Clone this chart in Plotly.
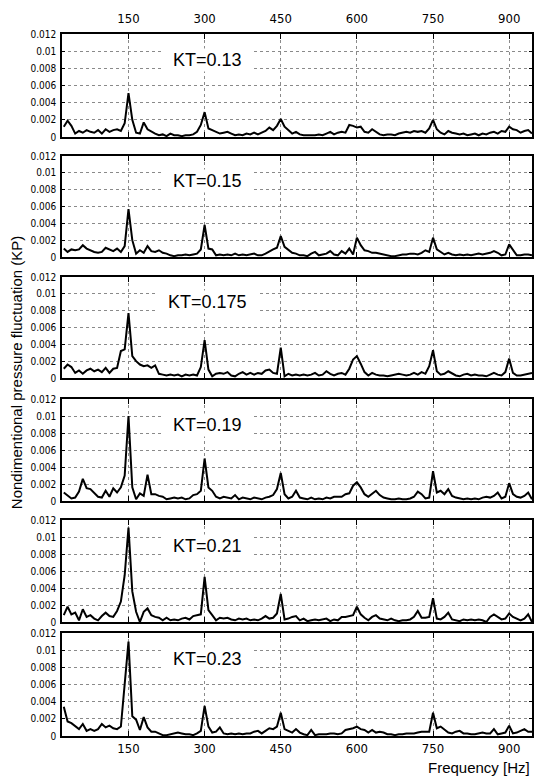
import plotly.graph_objects as go

# Frequency grid (Hz)
freq = [22.5 + 7.5 * i for i in range(124)]

# Nondimensional pressure fluctuation values, in units of 1e-3
kt013 = [1.2, 1.9, 1.3, 0.4, 0.7, 0.5, 0.8, 0.6, 0.5, 0.8,
         0.4, 0.9, 0.6, 0.8, 0.9, 0.7, 1.6, 5.1, 2.0, 0.5,
         0.4, 1.7, 0.9, 0.6, 0.4, 0.2, 0.3, 0.1, 0.4, 0.2,
         0.2, 0.1, 0.2, 0.2, 0.3, 0.6, 1.4, 2.9, 1.0, 0.8,
         0.6, 0.4, 0.5, 0.6, 0.4, 0.2, 0.3, 0.2, 0.4, 0.3,
         0.5, 0.3, 0.5, 0.7, 1.1, 0.8, 1.3, 2.1, 1.2, 0.8,
         0.4, 0.6, 0.3, 0.2, 0.2, 0.2, 0.2, 0.3, 0.2, 0.4,
         0.6, 0.3, 0.5, 0.6, 0.5, 1.4, 1.3, 1.1, 1.2, 0.6,
         0.5, 0.9, 0.6, 0.3, 0.2, 0.3, 0.3, 0.2, 0.4, 0.5,
         0.6, 0.5, 0.7, 0.6, 0.7, 0.5, 1.0, 2.0, 0.9, 0.5,
         0.3, 0.7, 0.5, 0.4, 0.3, 0.4, 0.2, 0.3, 0.4, 0.2,
         0.4, 0.3, 0.5, 0.6, 0.4, 0.7, 0.6, 1.2, 0.9, 0.8,
         0.5, 0.7, 0.8, 0.4]

kt015 = [1.0, 0.6, 0.9, 0.8, 0.9, 1.4, 1.0, 0.8, 0.6, 0.5,
         0.6, 1.1, 0.9, 0.7, 1.0, 0.6, 1.3, 5.7, 2.0, 0.4,
         0.8, 0.5, 1.3, 0.7, 0.6, 0.8, 0.5, 0.4, 0.2, 0.1,
         0.2, 0.2, 0.3, 0.2, 0.3, 0.4, 0.9, 3.8, 1.0, 0.9,
         0.2, 0.3, 0.2, 0.3, 0.2, 0.4, 0.2, 0.3, 0.2, 0.3,
         0.4, 0.2, 0.2, 0.4, 0.7, 0.9, 1.1, 2.5, 1.2, 0.9,
         0.5, 0.4, 0.2, 0.2, 0.1, 0.4, 0.6, 0.2, 0.3, 0.4,
         0.7, 0.3, 0.2, 0.7, 0.4, 1.0, 0.3, 2.3, 1.4, 0.8,
         0.7, 0.5, 0.5, 0.4, 0.3, 0.2, 0.1, 0.1, 0.2, 0.3,
         0.3, 0.4, 0.4, 0.3, 0.5, 0.8, 0.6, 2.3, 0.9, 0.6,
         0.3, 0.5, 0.3, 0.2, 0.3, 0.2, 0.3, 0.2, 0.3, 0.4,
         0.3, 0.4, 0.5, 0.7, 0.5, 0.2, 0.3, 1.5, 0.9, 0.2,
         0.2, 0.3, 0.3, 0.2]

kt0175 = [1.1, 1.6, 1.3, 0.6, 0.9, 0.5, 0.9, 1.1, 0.8, 1.0,
          0.7, 1.2, 0.6, 1.1, 1.2, 3.2, 3.4, 7.7, 2.6, 2.0,
          1.6, 1.4, 1.5, 1.2, 1.5, 0.5, 0.4, 0.3, 0.4, 0.3,
          0.4, 0.2, 0.4, 0.3, 0.4, 0.3, 1.3, 4.5, 1.0, 0.2,
          0.5, 0.6, 0.5, 0.7, 0.3, 0.2, 0.5, 0.7, 0.4, 0.6,
          0.4, 0.6, 0.5, 0.9, 1.0, 0.6, 0.5, 3.6, 0.2, 0.5,
          0.3, 0.4, 0.3, 0.4, 0.3, 0.4, 0.6, 0.3, 0.4, 0.8,
          0.5, 0.3, 0.5, 0.6, 0.4, 1.1, 2.2, 2.6, 1.7, 0.7,
          0.3, 0.6, 0.4, 0.3, 0.3, 0.2, 0.3, 0.4, 0.5, 0.4,
          0.3, 0.4, 0.6, 0.4, 0.7, 0.5, 1.4, 3.3, 0.8, 0.4,
          0.5, 0.8, 0.5, 0.3, 0.2, 0.4, 0.5, 0.3, 0.4, 0.3,
          0.3, 0.2, 0.4, 0.6, 0.4, 0.3, 0.7, 2.3, 0.6, 0.3,
          0.3, 0.4, 0.5, 0.6]

kt019 = [1.0, 0.6, 0.3, 0.4, 1.1, 2.6, 1.5, 1.4, 1.0, 0.5,
         0.4, 1.2, 0.5, 1.5, 1.0, 1.6, 3.0, 10.0, 1.6, 0.2,
         0.9, 0.6, 3.1, 0.8, 0.8, 0.6, 0.5, 0.2, 0.3, 0.4,
         0.3, 0.4, 0.2, 0.3, 0.7, 0.8, 1.2, 5.0, 1.6, 1.2,
         0.5, 0.3, 0.5, 0.4, 0.3, 0.7, 0.2, 0.4, 0.3, 0.2,
         0.4, 0.3, 0.2, 0.4, 0.5, 0.7, 1.4, 3.3, 0.8, 0.3,
         0.5, 1.2, 0.4, 0.3, 0.2, 0.4, 0.2, 0.3, 0.2, 0.4,
         0.3, 0.5, 0.5, 0.5, 0.8, 0.9, 1.8, 2.2, 1.6, 0.8,
         0.5, 0.8, 1.2, 0.7, 0.4, 0.3, 0.2, 0.2, 0.3, 0.2,
         0.2, 0.3, 0.5, 1.1, 0.8, 0.3, 0.4, 3.5, 1.0, 1.2,
         0.8, 1.4, 0.6, 0.4, 0.3, 0.2, 0.3, 0.2, 0.3, 0.2,
         0.4, 0.5, 0.4, 0.6, 1.0, 0.3, 0.5, 2.1, 0.8, 0.5,
         0.4, 0.6, 1.0, 0.2]

kt021 = [0.8, 1.8, 0.9, 1.1, 0.2, 1.5, 0.6, 0.8, 0.4, 0.2,
         0.7, 1.1, 0.7, 0.6, 1.3, 2.4, 5.5, 11.1, 3.6, 1.2,
         0.0, 1.2, 1.6, 0.8, 0.6, 0.5, 0.2, 0.5, 0.2, 0.3,
         0.2, 0.4, 0.5, 0.3, 0.7, 0.8, 0.9, 5.3, 1.4, 0.8,
         0.2, 0.5, 0.4, 0.5, 0.3, 0.2, 0.4, 0.3, 0.4, 0.2,
         0.3, 0.2, 0.4, 0.7, 0.4, 0.5, 1.0, 3.3, 0.3, 0.4,
         0.6, 0.7, 0.2, 0.4, 0.1, 0.2, 0.3, 0.2, 0.3, 0.4,
         0.1, 0.3, 0.2, 0.6, 0.6, 0.7, 0.8, 1.8, 0.9, 0.5,
         0.2, 0.6, 0.8, 0.4, 0.3, 0.2, 0.4, 0.2, 0.1, 0.2,
         0.2, 0.3, 0.6, 1.3, 0.5, 0.5, 0.6, 2.8, 0.4, 0.3,
         0.6, 1.1, 0.3, 0.2, 0.1, 0.3, 0.2, 0.3, 0.2, 0.3,
         0.2, 0.0, 0.6, 0.9, 0.6, 0.3, 0.4, 1.0, 0.6, 0.4,
         0.2, 0.4, 0.9, 0.0]

kt023 = [3.4, 1.7, 1.5, 1.1, 0.8, 1.4, 0.6, 0.8, 0.6, 0.8,
         1.4, 1.0, 1.2, 0.9, 0.8, 1.1, 6.0, 11.0, 2.3, 1.9,
         0.7, 2.2, 1.0, 0.5, 0.5, 0.3, 0.1, 0.1, 0.2, 0.3,
         0.4, 0.3, 0.2, 0.2, 0.1, 0.3, 0.6, 3.5, 1.1, 0.4,
         0.5, 1.0, 0.3, 0.2, 0.3, 0.2, 0.3, 0.2, 0.3, 0.3,
         0.5, 0.6, 0.3, 0.6, 0.9, 0.8, 1.1, 2.7, 0.8, 0.6,
         0.4, 0.8, 0.4, 0.2, 0.1, 0.7, 0.1, 0.2, 0.2, 0.2,
         0.3, 0.3, 0.2, 0.3, 0.7, 0.8, 0.9, 1.1, 0.8, 0.7,
         0.4, 0.7, 0.4, 0.5, 0.4, 0.2, 0.2, 0.1, 0.2, 0.2,
         0.3, 0.3, 0.3, 0.4, 0.5, 0.5, 0.5, 2.7, 0.9, 1.1,
         0.7, 0.4, 0.3, 0.5, 0.6, 0.3, 0.3, 0.2, 0.2, 0.3,
         0.4, 0.3, 0.3, 0.8, 0.2, 0.3, 0.4, 1.2, 0.3, 0.4,
         0.6, 0.8, 0.5, 0.5]

series = [kt013, kt015, kt0175, kt019, kt021, kt023]
kt_labels = ["KT=0.13", "KT=0.15", "KT=0.175", "KT=0.19", "KT=0.21", "KT=0.23"]

y_tick_vals = [0, 0.002, 0.004, 0.006, 0.008, 0.01, 0.012]
y_tick_text = ["0", "0.002", "0.004", "0.006", "0.008", "0.01", "0.012"]
x_tick_vals = [150, 300, 450, 600, 750, 900]
x_tick_text = ["150", "300", "450", "600", "750", "900"]

W, H = 534, 778
ML, MR, MT, MB = 62, 0, 34, 42
plot_h = H - MT - MB
panel_px = [(34, 137), (156, 257), (277, 378), (399, 501), (520, 622), (633, 736)]
domains = [[(H - MB - b) / plot_h, (H - MB - t) / plot_h] for t, b in panel_px]

narrow = "Liberation Sans Narrow, Arial Narrow, DejaVu Sans Condensed, sans-serif"
regular = "Liberation Sans, Arial, sans-serif"

fig = go.Figure()
layout = dict(
    width=W, height=H,
    margin=dict(l=ML, r=MR, t=MT, b=MB, pad=0),
    paper_bgcolor="white", plot_bgcolor="white",
    showlegend=False,
)
annotations = []

for k, vals in enumerate(series):
    n = "" if k == 0 else str(k + 1)
    fig.add_trace(go.Scatter(
        x=freq, y=[v * 1e-3 for v in vals],
        xaxis="x" + n, yaxis="y" + n,
        mode="lines", line=dict(color="black", width=2),
        hoverinfo="skip",
    ))
    show_x = k == 0 or k == len(series) - 1
    layout["xaxis" + n] = dict(
        domain=[0, 1], range=[19, 945], anchor="y" + n,
        tickmode="array", tickvals=x_tick_vals, ticktext=x_tick_text,
        ticks="inside", ticklen=5, tickwidth=1.2, tickcolor="black",
        showline=True, linecolor="black", linewidth=1.5, mirror="ticks",
        showgrid=True, gridcolor="#8a8a8a", griddash="dot", gridwidth=1,
        zeroline=False, showticklabels=show_x,
        side="top" if k == 0 else "bottom",
        tickfont=dict(family=narrow, size=13, color="black"),
        ticklabelstandoff=4 if k == 0 else 0,
    )
    layout["yaxis" + n] = dict(
        domain=domains[k], range=[0, 0.012], anchor="x" + n,
        tickmode="array", tickvals=y_tick_vals, ticktext=y_tick_text,
        ticks="inside", ticklen=3, tickwidth=1, tickcolor="black",
        showline=True, linecolor="black", linewidth=1.5, mirror="ticks",
        showgrid=True, gridcolor="#8a8a8a", griddash="dot", gridwidth=1,
        zeroline=False,
        tickfont=dict(family=narrow, size=10, color="black"),
        ticklabelstandoff=2,
    )
    annotations.append(dict(
        x=305, y=0.009, xref="x" + n, yref="y" + n,
        text="\u00a0\u00a0" + kt_labels[k] + "\u00a0\u00a0",
        showarrow=False, xanchor="center", yanchor="middle",
        bgcolor="white", borderpad=1,
        font=dict(family=regular, size=18, color="black"),
    ))

annotations.append(dict(
    x=(17 - ML) / (W - ML - MR), y=(H - MB - 373) / plot_h,
    xref="paper", yref="paper", textangle=-90,
    text="Nondimentional pressure fluctuation (KP)",
    showarrow=False, xanchor="center", yanchor="middle",
    font=dict(family=regular, size=15, color="black"),
))
annotations.append(dict(
    x=1, y=(H - MB - 768) / plot_h, xref="paper", yref="paper",
    text="Frequency [Hz]", showarrow=False,
    xanchor="right", yanchor="middle",
    font=dict(family=regular, size=15, color="black"),
))
layout["annotations"] = annotations
fig.update_layout(**layout)

fig.write_html("out.html")
